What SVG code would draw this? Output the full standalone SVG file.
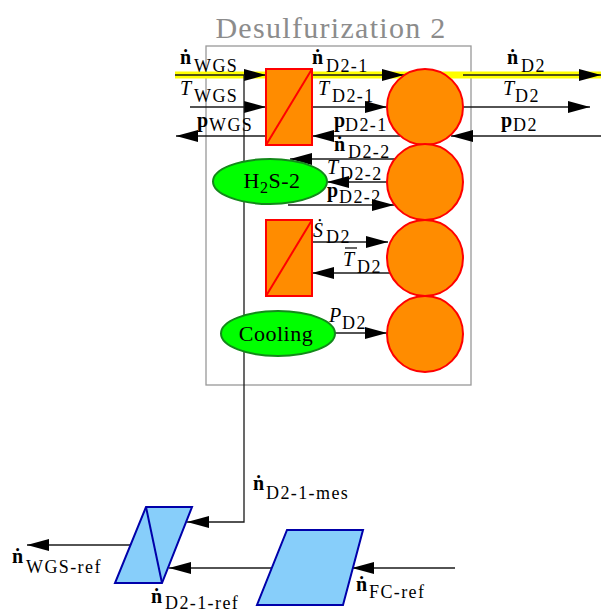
<svg xmlns="http://www.w3.org/2000/svg" width="601" height="612" viewBox="0 0 601 612" font-family="'Liberation Serif', 'DejaVu Serif', serif">
<style>
.ln{stroke:#1a1a1a;stroke-width:1.3;fill:none}
.arr{marker-end:url(#ah)}
.orange{fill:#FF8C00;stroke:#FF0000;stroke-width:2}
.green{fill:#00FF00;stroke:#13891a;stroke-width:2}
.blue{fill:#87CEFA;stroke:#0000AA;stroke-width:2}
text{font-family:'Liberation Serif','DejaVu Serif',serif;fill:#000}
.m{font-size:20px}
.b{font-weight:bold}
.i{font-style:italic}
.s{font-size:18px;letter-spacing:1.4px}
.title{font-size:30px;letter-spacing:1.3px;fill:#8c8c8c}
.nl{font-size:22px;letter-spacing:0.5px}
</style>
<defs>
<marker id="ah" markerUnits="userSpaceOnUse" markerWidth="23" markerHeight="13" refX="22" refY="6.5" orient="auto">
<path d="M0,0.5 L22,6.5 L0,12.5 Z" fill="#000"/>
</marker>
</defs>
<rect x="206" y="46" width="265" height="339" fill="none" stroke="#999" stroke-width="1.3"/>
<text class="title" x="331" y="38" text-anchor="middle">Desulfurization 2</text>
<g id="connectors">
<line x1="175" y1="75" x2="601" y2="75" stroke="#ffff00" stroke-width="7"/>
<path class="ln arr" d="M175,75 H266"/>
<path class="ln arr" d="M312,75 H404"/>
<path class="ln arr" d="M463,75 H601"/>
<path class="ln arr" d="M190,107 H266"/>
<path class="ln arr" d="M312,107 H387"/>
<path class="ln arr" d="M463,107 H590"/>
<path class="ln arr" d="M266,136 H176"/>
<path class="ln arr" d="M400,136 H312"/>
<path class="ln arr" d="M601,136 H451"/>
<path class="ln arr" d="M395,159 H290"/>
<path class="ln arr" d="M387,182 H327"/>
<path class="ln arr" d="M288,205 H394"/>
<path class="ln arr" d="M312,242 H388"/>
<path class="ln arr" d="M390,273 H312"/>
<path class="ln arr" d="M335,333 H387"/>
<path class="ln arr" d="M244,75 V522 H187"/>
<path class="ln arr" d="M130,545 H27"/>
<path class="ln arr" d="M272,568 H169"/>
<path class="ln arr" d="M455,568 H352"/>
</g>
<g id="split1"><rect class="orange" x="266" y="69" width="46" height="76"/><line x1="266" y1="145" x2="312" y2="69" stroke="#FF0000" stroke-width="2"/></g>
<g id="split2"><rect class="orange" x="266" y="220" width="46" height="76"/><line x1="266" y1="296" x2="312" y2="220" stroke="#FF0000" stroke-width="2"/></g>
<g id="c1"><circle class="orange" cx="425" cy="107" r="38"/></g>
<g id="c2"><circle class="orange" cx="425" cy="182" r="38"/></g>
<g id="c3"><circle class="orange" cx="425" cy="258" r="38"/></g>
<g id="c4"><circle class="orange" cx="425" cy="334" r="38"/></g>
<g id="h2s"><ellipse class="green" cx="270" cy="181.5" rx="57" ry="22.5"/><text class="nl" x="272" y="188" text-anchor="middle">H<tspan font-size="16" dy="5">2</tspan><tspan dy="-5">S-2</tspan></text></g>
<g id="cooling"><ellipse class="green" cx="278" cy="333.5" rx="57" ry="22.5"/><text class="nl" x="276" y="341" text-anchor="middle">Cooling</text></g>
<g id="ctrl1"><path class="blue" d="M146,507 H192 L162,583 H115 Z"/><line x1="146" y1="507" x2="162" y2="583" stroke="#0000AA" stroke-width="2"/></g>
<g id="ctrl2"><path class="blue" d="M287,530 H363 L343,605 H257 Z"/></g>
<g id="labels">
<text><tspan class="m b" x="180" y="64">ṅ</tspan><tspan class="s" x="194" y="72">WGS</tspan></text>
<text><tspan class="m b" x="312" y="64">ṅ</tspan><tspan class="s" x="326" y="72">D2-1</tspan></text>
<text><tspan class="m b" x="507" y="64">ṅ</tspan><tspan class="s" x="521" y="72">D2</tspan></text>
<text><tspan class="m i" x="180" y="95">T</tspan><tspan class="s" x="194" y="102">WGS</tspan></text>
<text><tspan class="m i" x="318" y="95">T</tspan><tspan class="s" x="332" y="102">D2-1</tspan></text>
<text><tspan class="m i" x="503" y="95">T</tspan><tspan class="s" x="515" y="102">D2</tspan></text>
<text><tspan class="m b" x="197" y="127">p</tspan><tspan class="s" x="209" y="131">WGS</tspan></text>
<text><tspan class="m b" x="334" y="127">p</tspan><tspan class="s" x="345" y="131">D2-1</tspan></text>
<text><tspan class="m b" x="501" y="127">p</tspan><tspan class="s" x="513" y="131">D2</tspan></text>
<text><tspan class="m b" x="334" y="151">ṅ</tspan><tspan class="s" x="348" y="158">D2-2</tspan></text>
<text><tspan class="m i" x="327" y="174">T</tspan><tspan class="s" x="340" y="180">D2-2</tspan></text>
<text><tspan class="m b" x="327" y="197">p</tspan><tspan class="s" x="339" y="203">D2-2</tspan></text>
<text><tspan class="m i" x="313" y="237">Ṡ</tspan><tspan class="s" x="326" y="243">D2</tspan></text>
<text><tspan class="m i" x="343" y="266">T</tspan><tspan class="s" x="357" y="273">D2</tspan></text>
<line x1="345" y1="248" x2="357" y2="248" stroke="#000" stroke-width="1.2"/>
<text><tspan class="m i" x="329" y="322">P</tspan><tspan class="s" x="342" y="329">D2</tspan></text>
<text><tspan class="m b" x="253" y="490">ṅ</tspan><tspan class="s" x="266" y="499">D2-1-mes</tspan></text>
<text><tspan class="m b" x="12" y="563">ṅ</tspan><tspan class="s" x="26" y="573">WGS-ref</tspan></text>
<text><tspan class="m b" x="151" y="603">ṅ</tspan><tspan class="s" x="165" y="609">D2-1-ref</tspan></text>
<text><tspan class="m b" x="356" y="591">ṅ</tspan><tspan class="s" x="369" y="598">FC-ref</tspan></text>
</g>
</svg>
